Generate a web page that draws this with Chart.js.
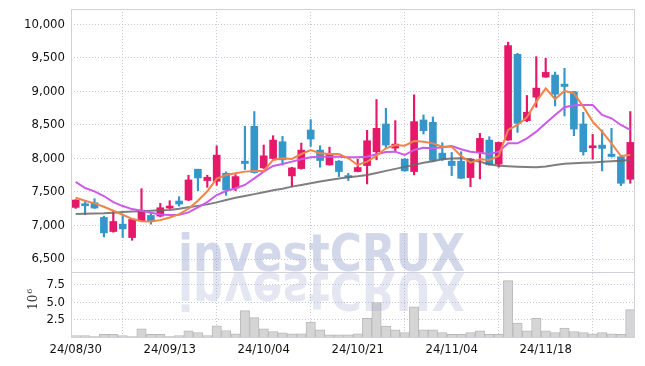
<!DOCTYPE html>
<html><head><meta charset="utf-8">
<script src="https://cdn.jsdelivr.net/npm/chart.js@4.4.1/dist/chart.umd.min.js"></script>
<style>html,body{margin:0;padding:0;background:#fff;}#wrap{width:645px;height:366px;}</style>
</head><body><div id="wrap"><canvas id="c" width="645" height="366"></canvas></div>
<script>
const dates = ['24/08/30','24/09/02','24/09/03','24/09/04','24/09/05','24/09/06','24/09/09','24/09/10','24/09/11','24/09/12',
 '24/09/13','24/09/19','24/09/20','24/09/23','24/09/24','24/09/25','24/09/26','24/09/27','24/09/30','24/10/02',
 '24/10/04','24/10/07','24/10/08','24/10/10','24/10/11','24/10/14','24/10/15','24/10/16','24/10/17','24/10/18',
 '24/10/21','24/10/22','24/10/23','24/10/24','24/10/25','24/10/28','24/10/29','24/10/30','24/10/31','24/11/01',
 '24/11/04','24/11/05','24/11/06','24/11/07','24/11/08','24/11/11','24/11/12','24/11/13','24/11/14','24/11/15',
 '24/11/18','24/11/19','24/11/20','24/11/21','24/11/22','24/11/25','24/11/26','24/11/27','24/11/28','24/11/29'];
const tickLabels = ['24/08/30','24/09/13','24/10/04','24/10/21','24/11/04','24/11/18'];
const openP  = [7270,7310,7340,7120,6910,7020,6820,7070,7150,7140, 7260,7365,7380,7840,7670,7660,7780,7560,7960,8480,
 7860,8000,8250,7740,7850,8425,8125,7905,7960,7725, 7805,7895,8100,8515,8155,7990,7805,8575,8540,8080,
 7960,7960,7715,8095,8275,7915,8275,9555,8565,8915, 9215,9245,9110,8995,8515,8160,8200,8065,8025,7690];
const highP  = [7385,7355,7400,7140,7220,7150,7100,7550,7190,7330, 7370,7430,7750,7840,7750,8190,7800,7760,8480,8700,
 8200,8340,8330,7870,8230,8580,8190,8170,7970,7780, 7990,8420,8880,8750,8565,8000,8950,8650,8620,8235,
 8090,8100,8000,8375,8325,8245,9735,9570,8940,9520, 9495,9290,9345,9000,8690,8360,8425,8450,8030,8700];
const lowP   = [7255,7160,7255,6830,6900,6820,6780,7060,7020,7130, 7250,7290,7370,7520,7570,7600,7450,7520,7835,7780,
 7850,7990,7900,7580,7840,8180,7870,7900,7730,7670, 7800,7620,7980,8165,8100,7810,7755,8365,7960,7970,
 7745,7700,7580,7695,7900,7870,8270,8390,8550,8765, 9210,8785,8635,8340,8050,7990,7815,8020,7595,7630];
const closeP = [7380,7295,7260,6890,7060,6950,7090,7230,7070,7265, 7290,7320,7680,7710,7720,8050,7530,7730,7925,7790,
 8040,8275,7980,7860,8125,8290,7970,8060,7805,7715, 7865,8265,8450,8200,8215,7815,8550,8415,7970,7990,
 7895,7705,7990,8300,7905,8240,9685,8525,8690,9050, 9285,8960,9075,8440,8100,8190,8150,8030,7630,8240];
const volume = [0.19,0.19,0.05,0.37,0.37,0.19,0.05,1.16,0.37,0.37, 0.05,0.19,0.88,0.65,0.19,1.6,0.93,0.46,3.8,2.78,
 1.16,0.79,0.6,0.46,0.46,2.13,1.02,0.32,0.32,0.32, 0.46,2.69,4.95,1.57,1.02,0.65,4.35,1.02,1.02,0.65,
 0.37,0.37,0.65,0.88,0.37,0.37,8.1,2.0,0.88,2.69, 0.88,0.65,1.3,0.79,0.65,0.46,0.65,0.46,0.37,3.94];
const ma5  = [7415,7370,7330,7280,7220,7160,7100,7065,7060,7080, 7120,7170,7250,7370,7510,7700,7754,7779,7804,7814,
 7814,7978,8003,7993,8067,8127,8077,8067,8067,8003, 7903,7953,8042,8152,8202,8192,8261,8250,8226,8177,
 8177,8037,7938,7988,7978,8037,8426,8500,8614,8848, 9047,8888,9008,8973,8774,8550,8400,8226,8037,8052];
const ma10 = [7650,7560,7510,7440,7350,7290,7245,7220,7190,7165, 7157,7160,7195,7270,7350,7455,7515,7555,7605,7704,
 7804,7888,7918,7953,7988,8018,8027,8027,8027,8018, 8018,8027,8062,8097,8102,8052,8127,8160,8152,8167,
 8187,8137,8102,8087,8067,8102,8226,8226,8301,8400, 8525,8649,8764,8793,8799,8799,8649,8600,8500,8426];
const ma60 = [7172,7174,7178,7182,7190,7200,7208,7214,7220,7226, 7232,7250,7272,7293,7315,7345,7380,7413,7440,7468,
 7497,7525,7550,7580,7605,7630,7655,7680,7700,7720, 7735,7755,7785,7815,7845,7875,7905,7935,7960,7990,
 8000,8003,7985,7950,7915,7893,7885,7878,7873,7868, 7880,7903,7920,7930,7937,7942,7950,7958,7968,7978];
const priceTicks = [6500,7000,7500,8000,8500,9000,9500,10000];
const volumeTicks = [2.5,5.0,7.5];

const upColor = '#e5186a', downColor = '#3597c9';
const candleColors = closeP.map((c,i)=> c >= openP[i] ? upColor : downColor);
const gridColor = '#c6c8da';
const tickFont = {family:"'DejaVu Sans Condensed','DejaVu Sans'", size:13};

const decor = {
  id:'decor',
  afterDatasetsDraw(chart){
    const {ctx, chartArea:a, scales} = chart;
    const sep = scales.y.bottom;
    ctx.save();
    ctx.beginPath(); ctx.rect(a.left, a.top, a.right-a.left, a.bottom-a.top); ctx.clip();
    ctx.font = 'bold 52px "DejaVu Sans"';
    const txt = 'investCRUX';
    const w = ctx.measureText(txt).width;
    const left = 178, right = 465, base = Math.round(sep) - 1;
    const sx = (right-left)/w;
    ctx.translate(left, base);
    ctx.scale(sx, 1);
    ctx.fillStyle = 'rgba(150,160,205,0.42)';
    ctx.fillText(txt, 0, 0);
    ctx.scale(1, -1);
    ctx.fillStyle = 'rgba(150,160,205,0.26)';
    ctx.fillText(txt, 0, -2);
    ctx.restore();
    ctx.save();
    ctx.strokeStyle = '#cfd0d9'; ctx.lineWidth = 1;
    ctx.strokeRect(Math.round(a.left)+0.5, Math.round(a.top)+0.5, Math.round(a.right-a.left)-1, Math.round(a.bottom-a.top));
    ctx.beginPath(); ctx.moveTo(a.left, Math.round(sep)+0.5); ctx.lineTo(a.right, Math.round(sep)+0.5); ctx.stroke();
    ctx.restore();
    ctx.save();
    ctx.fillStyle = '#333';
    ctx.translate(37, 310); ctx.rotate(-Math.PI/2);
    ctx.font = '12px "DejaVu Serif"';
    ctx.textBaseline = 'alphabetic';
    ctx.fillText('10', 0, 0);
    const w10 = ctx.measureText('10').width;
    ctx.font = '8px "DejaVu Serif"';
    ctx.fillText('6', w10 + 1, -5);
    ctx.restore();
  }
};

const fitY = (s)=>{ s.width = 71; s.paddingTop = 0; s.paddingBottom = 0; };

new Chart(document.getElementById('c'), {
  data: {
    labels: dates,
    datasets: [
      {type:'line', data:ma5, yAxisID:'y', borderColor:'#ef8448', borderWidth:2, pointRadius:0, tension:0, order:1},
      {type:'line', data:ma10, yAxisID:'y', borderColor:'#cc5ae8', borderWidth:2, pointRadius:0, tension:0, order:1},
      {type:'line', data:ma60, yAxisID:'y', borderColor:'rgba(105,105,105,0.85)', borderWidth:2, pointRadius:0, tension:0, order:1},
      {type:'bar', data:openP.map((o,i)=>[o, closeP[i]]), yAxisID:'y', backgroundColor:candleColors, barThickness:7, grouped:false, minBarLength:2, order:2},
      {type:'bar', data:lowP.map((l,i)=>[l, highP[i]]), yAxisID:'y', backgroundColor:candleColors, barThickness:1.5, grouped:false, order:3},
      {type:'bar', data:volume, yAxisID:'yv', backgroundColor:'#d5d5d6', borderColor:'#b9b9bb', borderWidth:1, barPercentage:1, categoryPercentage:1, grouped:false, order:4}
    ]
  },
  options: {
    responsive:false, animation:false, devicePixelRatio:1,
    layout:{padding:{left:0,right:10,top:9,bottom:0}},
    plugins:{legend:{display:false}, tooltip:{enabled:false}},
    scales:{
      x:{type:'category', offset:true,
         grid:{color:gridColor, drawTicks:false, lineWidth:1}, border:{display:false, dash:[1,2]},
         ticks:{autoSkip:false, maxRotation:0, minRotation:0, padding:5, color:'#111', font:tickFont,
           callback:(v,i)=> tickLabels.includes(dates[i]) ? dates[i] : null},
         afterFit:(s)=>{ s.height = 29; s.paddingLeft = 0; s.paddingRight = 0; }},
      yv:{type:'linear', position:'left', stack:'s', stackWeight:65, min:0, max:9.35,
         grid:{color:gridColor, drawTicks:false}, border:{display:false, dash:[1,2]},
         afterBuildTicks:(s)=>{ s.ticks = volumeTicks.map(v=>({value:v})); },
         ticks:{autoSkip:false, padding:6, color:'#111', font:tickFont,
           callback:(v)=> Number(v).toFixed(1)},
         afterFit:fitY},
      y:{type:'linear', position:'left', stack:'s', stackWeight:263, min:6306, max:10231,
         grid:{color:gridColor, drawTicks:false}, border:{display:false, dash:[1,2]},
         afterBuildTicks:(s)=>{ s.ticks = priceTicks.map(v=>({value:v})); },
         ticks:{autoSkip:false, padding:6, color:'#111', font:tickFont,
           callback:(v)=> Number(v).toLocaleString('en-US')},
         afterFit:fitY}
    }
  },
  plugins:[decor]
});
</script></body></html>
